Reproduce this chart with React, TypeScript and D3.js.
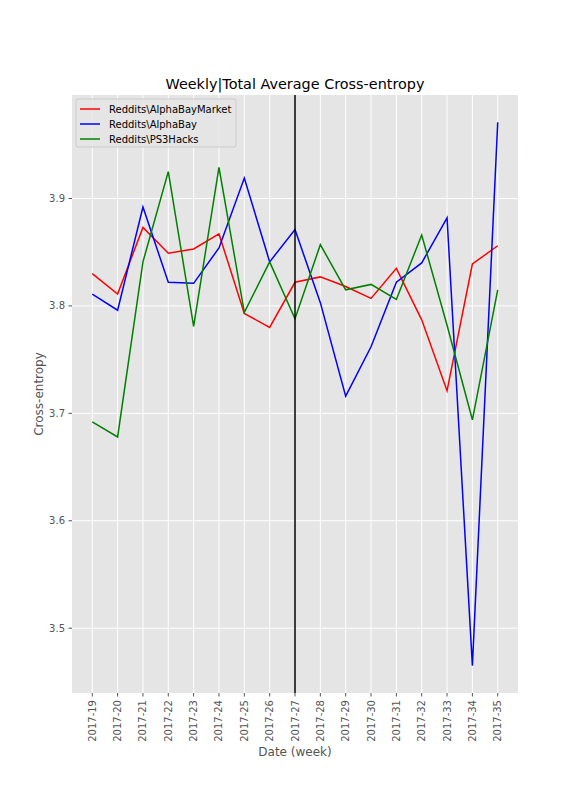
import React, { useEffect, useRef } from "react";
import * as d3 from "d3";

// week labels along the x axis
const weeks = [
  "2017-19", "2017-20", "2017-21", "2017-22", "2017-23", "2017-24",
  "2017-25", "2017-26", "2017-27", "2017-28", "2017-29", "2017-30",
  "2017-31", "2017-32", "2017-33", "2017-34", "2017-35",
];

const alphaBayMarket = [
  3.830, 3.811, 3.873, 3.849, 3.853, 3.867, 3.793, 3.780, 3.822,
  3.827, 3.818, 3.807, 3.835, 3.787, 3.721, 3.839, 3.856,
];
const alphaBay = [
  3.811, 3.796, 3.892, 3.822, 3.821, 3.854, 3.919, 3.841, 3.871,
  3.803, 3.716, 3.762, 3.822, 3.840, 3.882, 3.465, 3.971,
];
const ps3Hacks = [
  3.692, 3.678, 3.841, 3.925, 3.781, 3.929, 3.794, 3.841, 3.788,
  3.857, 3.815, 3.820, 3.806, 3.866, 3.782, 3.694, 3.815,
];

const seriesNames = ["Reddits\\AlphaBayMarket", "Reddits\\AlphaBay", "Reddits\\PS3Hacks"];
const seriesColors = ["#ff0000", "#0000ff", "#008000"];
const yTicks = [3.5, 3.6, 3.7, 3.8, 3.9];
const markerWeek = "2017-27";

export default function App() {
  const ref = useRef<SVGSVGElement>(null);

  useEffect(() => {
    const W = 576, H = 792;
    const margin = { top: 95, right: 58, bottom: 99, left: 72 };
    const w = W - margin.left - margin.right;
    const h = H - margin.top - margin.bottom;
    const font = "DejaVu Sans, sans-serif";

    const svg = d3.select(ref.current);
    svg.selectAll("*").remove();
    svg.attr("width", W).attr("height", H);

    svg.append("rect").attr("width", W).attr("height", H).attr("fill", "#ffffff");

    const g = svg.append("g").attr("transform", `translate(${margin.left},${margin.top})`);

    // x: index scale with matplotlib's 5% padding
    const n = weeks.length;
    const pad = (n - 1) * 0.05;
    const x = d3.scaleLinear().domain([-pad, n - 1 + pad]).range([0, w]);

    const all = [...alphaBayMarket, ...alphaBay, ...ps3Hacks];
    const lo = d3.min(all)!, hi = d3.max(all)!;
    const ypad = (hi - lo) * 0.05;
    const y = d3.scaleLinear().domain([lo - ypad, hi + ypad]).range([h, 0]);

    // background
    g.append("rect").attr("width", w).attr("height", h).attr("fill", "#e5e5e5");

    // grid
    g.selectAll(".gx")
      .data(weeks)
      .join("line")
      .attr("x1", (d, i) => x(i))
      .attr("x2", (d, i) => x(i))
      .attr("y1", 0)
      .attr("y2", h)
      .attr("stroke", "#ffffff")
      .attr("stroke-width", 1);
    g.selectAll(".gy")
      .data(yTicks)
      .join("line")
      .attr("x1", 0)
      .attr("x2", w)
      .attr("y1", (d) => y(d))
      .attr("y2", (d) => y(d))
      .attr("stroke", "#ffffff")
      .attr("stroke-width", 1);

    // x axis
    const xAxis = g.append("g").attr("transform", `translate(0,${h})`);
    weeks.forEach((wk, i) => {
      xAxis.append("line")
        .attr("x1", x(i)).attr("x2", x(i))
        .attr("y1", 0).attr("y2", 3.5)
        .attr("stroke", "#555555");
      xAxis.append("text")
        .attr("transform", `translate(${x(i) + 3.5},${7}) rotate(-90)`)
        .attr("text-anchor", "end")
        .attr("font-family", font)
        .attr("font-size", 10)
        .attr("fill", "#555555")
        .text(wk);
    });

    // y axis
    const yAxis = g.append("g");
    yTicks.forEach((t) => {
      yAxis.append("line")
        .attr("x1", -3.5).attr("x2", 0)
        .attr("y1", y(t)).attr("y2", y(t))
        .attr("stroke", "#555555");
      yAxis.append("text")
        .attr("x", -7)
        .attr("y", y(t))
        .attr("dy", "0.35em")
        .attr("text-anchor", "end")
        .attr("font-family", font)
        .attr("font-size", 10)
        .attr("fill", "#555555")
        .text(t.toFixed(1));
    });

    // lines
    const line = d3.line<number>().x((d, i) => x(i)).y((d) => y(d));
    [alphaBayMarket, alphaBay, ps3Hacks].forEach((s, k) => {
      g.append("path")
        .datum(s)
        .attr("d", line)
        .attr("fill", "none")
        .attr("stroke", seriesColors[k])
        .attr("stroke-width", 1.5);
    });

    // vertical marker
    const mi = weeks.indexOf(markerWeek);
    g.append("line")
      .attr("x1", x(mi)).attr("x2", x(mi))
      .attr("y1", 0).attr("y2", h)
      .attr("stroke", "#000000")
      .attr("stroke-opacity", 0.75)
      .attr("stroke-width", 2);

    // legend
    const lg = g.append("g").attr("transform", "translate(4,4)");
    lg.append("rect")
      .attr("width", 160).attr("height", 48)
      .attr("rx", 2)
      .attr("fill", "#e5e5e5")
      .attr("fill-opacity", 0.8)
      .attr("stroke", "#cccccc")
      .attr("stroke-width", 1);
    seriesNames.forEach((name, k) => {
      const yy = 10 + k * 15;
      lg.append("line")
        .attr("x1", 4).attr("x2", 24)
        .attr("y1", yy).attr("y2", yy)
        .attr("stroke", seriesColors[k])
        .attr("stroke-width", 1.5);
      lg.append("text")
        .attr("x", 33).attr("y", yy)
        .attr("dy", "0.35em")
        .attr("font-family", font)
        .attr("font-size", 10)
        .attr("fill", "#000000")
        .text(name);
    });

    // axis labels and title
    g.append("text")
      .attr("x", w / 2).attr("y", h + 63)
      .attr("text-anchor", "middle")
      .attr("font-family", font)
      .attr("font-size", 12)
      .attr("fill", "#555555")
      .text("Date (week)");

    g.append("text")
      .attr("transform", `translate(-29,${h / 2}) rotate(-90)`)
      .attr("text-anchor", "middle")
      .attr("font-family", font)
      .attr("font-size", 12)
      .attr("fill", "#555555")
      .text("Cross-entropy");

    g.append("text")
      .attr("x", w / 2).attr("y", -6)
      .attr("text-anchor", "middle")
      .attr("font-family", font)
      .attr("font-size", 14.4)
      .attr("fill", "#000000")
      .text("Weekly|Total Average Cross-entropy");
  }, []);

  return <svg ref={ref} style={{ position: "absolute", left: 0, top: 0, display: "block" }}></svg>;
}
